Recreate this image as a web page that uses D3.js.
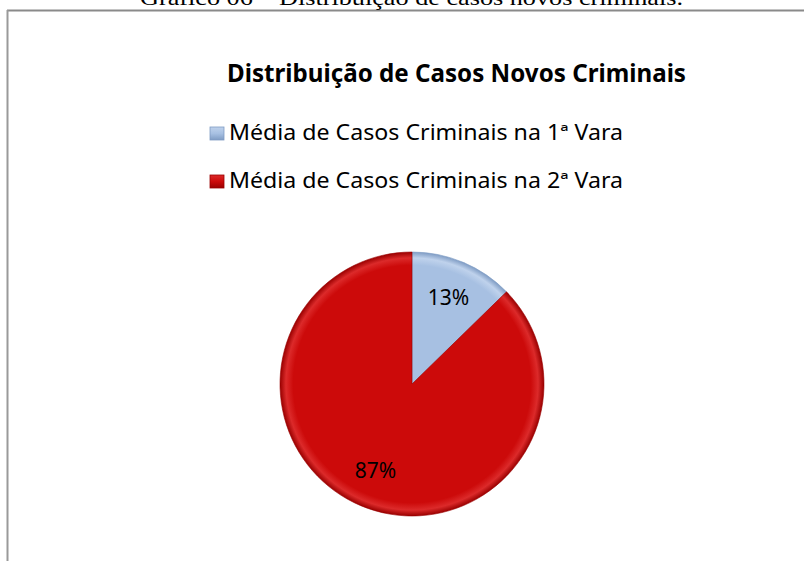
<!DOCTYPE html>
<html>
  <head>
    <meta charset="UTF-8" />
    <title>Distribuição de Casos Novos Criminais</title>
    <style>
      body,
      html {
        margin: 0;
        padding: 0;
        overflow: hidden;
        background: #fff;
      }
    </style>
  </head>
  <body>
    <svg id="chart"></svg>
    <script src="https://d3js.org/d3.v7.min.js"></script>
    <script>
      // data
      const categories = [
        "Média de Casos Criminais na 1ª Vara",
        "Média de Casos Criminais na 2ª Vara",
      ];
      const values = [12.7, 87.3];
      const pctLabels = ["13%", "87%"];
      const caption = "Gráfico 06 – Distribuição de casos novos criminais.";
      const title = "Distribuição de Casos Novos Criminais";

      const width = 804;
      const height = 561;
      const sans = "'Noto Sans', 'Open Sans', sans-serif";

      const svg = d3.select("#chart").attr("width", width).attr("height", height);
      const defs = svg.append("defs");

      const colors = d3.scaleOrdinal().domain(categories).range(["#a7c0e2", "#cc0a0a"]);
      const edges = d3.scaleOrdinal().domain(categories).range(["#7f9cc4", "#9a0000"]);
      const lights = d3.scaleOrdinal().domain(categories).range(["#bfd2ec", "#dc2a2a"]);

      // squeeze a text element to a given width
      function fit(sel, w) {
        sel.attr("textLength", w).attr("lengthAdjust", "spacingAndGlyphs");
      }

      // frame of the figure (top and left lines only show)
      svg.append("line")
        .attr("x1", 7).attr("x2", width).attr("y1", 10.5).attr("y2", 10.5)
        .attr("stroke", "#8a8a8a").attr("stroke-width", 2);
      svg.append("line")
        .attr("x1", 7.5).attr("x2", 7.5).attr("y1", 10).attr("y2", height)
        .attr("stroke", "#9a9a9a").attr("stroke-width", 2);

      // caption above the frame, cut by the top of the page
      svg.append("text")
        .attr("x", 140).attr("y", 5)
        .style("font-family", "'Liberation Serif', 'Times New Roman', serif")
        .style("font-size", "22px")
        .attr("fill", "#000")
        .text(caption)
        .call(fit, 543);

      svg.append("text")
        .attr("x", 227).attr("y", 82)
        .style("font-family", sans)
        .style("font-size", "25px")
        .style("font-weight", "bold")
        .attr("fill", "#000")
        .text(title)
        .call(fit, 459);

      // legend
      const legendY = d3.scalePoint().domain(categories).range([140, 188]);
      categories.forEach((c, i) => {
        const g = defs.append("linearGradient")
          .attr("id", "lg" + i).attr("x1", 0).attr("x2", 0).attr("y1", 0).attr("y2", 1);
        g.append("stop").attr("offset", 0).attr("stop-color", lights(c));
        g.append("stop").attr("offset", 0.5).attr("stop-color", colors(c));
        g.append("stop").attr("offset", 1).attr("stop-color", edges(c));
      });
      const legend = svg.append("g").selectAll("g").data(categories).join("g")
        .attr("transform", (d) => `translate(0,${legendY(d)})`);
      legend.append("rect")
        .attr("x", 210).attr("y", -13).attr("width", 14).attr("height", 13)
        .attr("fill", (d, i) => `url(#lg${i})`)
        .attr("stroke", (d) => edges(d)).attr("stroke-width", 0.8);
      legend.append("text")
        .attr("x", 229).attr("y", 0)
        .style("font-family", sans)
        .style("font-size", "21px")
        .attr("fill", "#000")
        .text((d) => d)
        .call(fit, 394);

      // pie
      const cx = 412, cy = 384, r = 132;
      const pie = d3.pie().sort(null).value((d) => d.value);
      const arc = d3.arc().innerRadius(0).outerRadius(r);
      const labelArc = d3.arc().innerRadius(94).outerRadius(94);
      const rows = categories.map((c, i) => ({ cat: c, value: values[i], label: pctLabels[i] }));

      rows.forEach((d, i) => {
        const g = defs.append("radialGradient")
          .attr("id", "rg" + i).attr("gradientUnits", "userSpaceOnUse")
          .attr("cx", 0).attr("cy", 0).attr("r", r);
        g.append("stop").attr("offset", 0).attr("stop-color", colors(d.cat));
        g.append("stop").attr("offset", 0.9).attr("stop-color", colors(d.cat));
        g.append("stop").attr("offset", 0.955).attr("stop-color", lights(d.cat));
        g.append("stop").attr("offset", 1).attr("stop-color", edges(d.cat));
      });

      const pieG = svg.append("g").attr("transform", `translate(${cx},${cy})`);
      pieG.selectAll("path").data(pie(rows)).join("path")
        .attr("d", arc)
        .attr("fill", (d, i) => `url(#rg${i})`)
        .attr("stroke", (d) => edges(d.data.cat))
        .attr("stroke-opacity", 0.6)
        .attr("stroke-width", 1);

      pieG.selectAll("text").data(pie(rows)).join("text")
        .attr("transform", (d) => `translate(${labelArc.centroid(d)})`)
        .attr("text-anchor", "middle")
        .attr("dy", "0.36em")
        .style("font-family", sans)
        .style("font-size", "21px")
        .attr("fill", "#000")
        .text((d) => d.data.label);
    </script>
  </body>
</html>
